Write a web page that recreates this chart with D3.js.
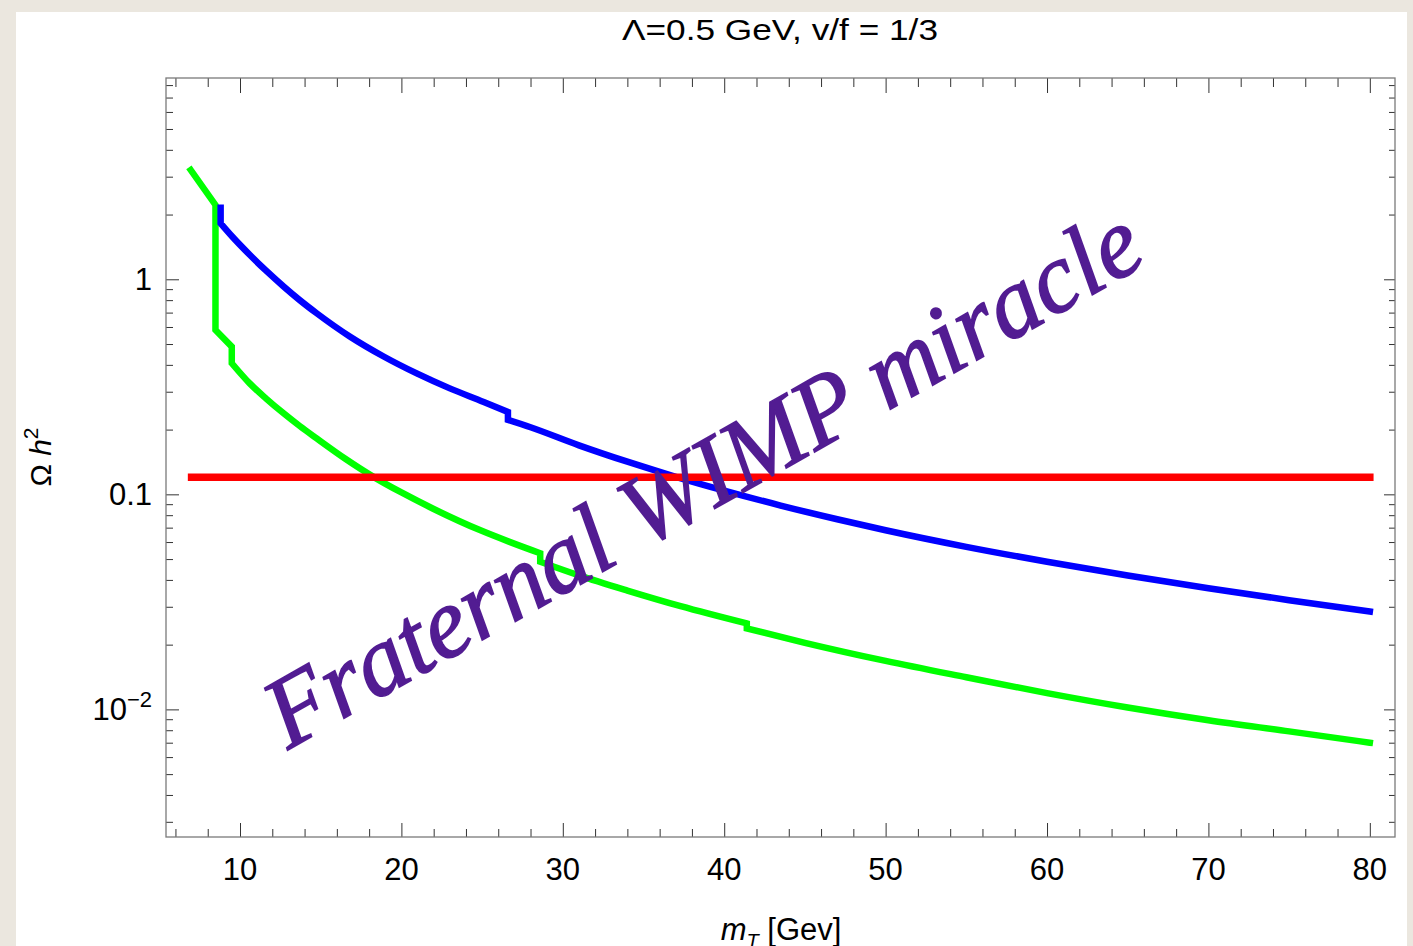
<!DOCTYPE html>
<html>
<head>
<meta charset="utf-8">
<script src="https://cdn.jsdelivr.net/npm/d3@7"></script>
<style>
    html, body { margin: 0; padding: 0; background: #ebe7df; }
    svg { display: block; }
    text { font-family: "Liberation Sans", Arial, Helvetica, sans-serif; fill: #000; }
</style>
</head>
<body>
<svg id="chart" width="1413" height="946"></svg>
<script>
// values
const titleText = 'Λ=0.5 GeV, v/f = 1/3'
const overlayText = 'Fraternal WIMP miracle'

const xMajorTicks = [10, 20, 30, 40, 50, 60, 70, 80]
const xMinorTicks = [6, 8, 12, 14, 16, 18, 22, 24, 26, 28, 32, 34, 36, 38, 42, 44, 46, 48,
    52, 54, 56, 58, 62, 64, 66, 68, 72, 74, 76, 78]
const yMajorTicks = [0.01, 0.1, 1]
const yMinorTicks = [0.003, 0.004, 0.005, 0.006, 0.007, 0.008, 0.009,
    0.02, 0.03, 0.04, 0.05, 0.06, 0.07, 0.08, 0.09,
    0.2, 0.3, 0.4, 0.5, 0.6, 0.7, 0.8, 0.9,
    2, 3, 4, 5, 6, 7, 8]

// relic density of the heavier state (blue), split where the curve jumps
const blueSeries = [
    [[8.8, 2.15]],
    [[8.8, 1.82], [9.5, 1.585], [10.6, 1.30], [11.6, 1.099], [12.7, 0.926], [13.7, 0.800],
        [14.75, 0.695], [16.8, 0.542], [18.9, 0.4375], [20.95, 0.365], [23.0, 0.311],
        [25.1, 0.269], [26.6, 0.2414]],
    [[26.6, 0.222], [28.0, 0.205], [31.0, 0.169], [34.0, 0.1418], [37.0, 0.1207],
        [40.0, 0.1041], [43.5, 0.0887], [47, 0.0766], [50, 0.0681], [55, 0.0570],
        [60, 0.0486], [65, 0.0419], [70, 0.0366], [75, 0.0322], [80, 0.0285]]
]
// relic density of the lighter state (green)
const greenSeries = [
    [[6.95, 3.22], [8.48, 2.216]],
    [[8.48, 0.581], [9.49, 0.486]],
    [[9.49, 0.407], [10.6, 0.328], [11.6, 0.2795], [12.7, 0.238], [13.7, 0.2078], [14.75, 0.182],
        [16.5, 0.1468], [18.4, 0.119], [20, 0.102], [22, 0.0855], [24.9, 0.068],
        [26.7, 0.0601], [28.6, 0.0532]],
    [[28.6, 0.0486], [31, 0.042], [34, 0.0357], [37.3, 0.0302], [41.4, 0.0251]],
    [[41.4, 0.0238], [45, 0.0204], [50, 0.0168], [55, 0.0141], [60, 0.0119], [65, 0.0102],
        [70, 0.0089], [75, 0.0079], [80, 0.0070]]
]
// observed value
const redSeries = [[[7, 0.12], [80, 0.12]]]

const svg = d3.select('#chart')

// white sheet on the paper background
svg.append('rect')
    .attr('x', 16).attr('y', 12)
    .attr('width', 1391).attr('height', 940)
    .attr('fill', '#ffffff')

const plot = { left: 166, right: 1395, top: 78, bottom: 837 }

const x = d3.scaleLinear()
    .domain([5.415, 81.56])
    .range([plot.left, plot.right])

const y = d3.scaleLog()
    .domain([0.00255, 8.63])
    .range([plot.bottom, plot.top])

// ticks (inward, Mathematica frame style)
function tickAxis(axis, transform) {
    const g = svg.append('g').attr('transform', transform).call(axis)
    g.select('.domain').remove()
    g.selectAll('text').remove()
    g.selectAll('line').attr('stroke', '#333').attr('stroke-width', 1)
    return g
}

tickAxis(d3.axisBottom(x).tickValues(xMajorTicks).tickSizeInner(-14).tickSizeOuter(0),
    `translate(0,${plot.bottom})`)
tickAxis(d3.axisBottom(x).tickValues(xMinorTicks).tickSizeInner(-8).tickSizeOuter(0),
    `translate(0,${plot.bottom})`)
tickAxis(d3.axisTop(x).tickValues(xMajorTicks).tickSizeInner(-15).tickSizeOuter(0),
    `translate(0,${plot.top})`)
tickAxis(d3.axisTop(x).tickValues(xMinorTicks).tickSizeInner(-9).tickSizeOuter(0),
    `translate(0,${plot.top})`)
tickAxis(d3.axisLeft(y).tickValues(yMajorTicks).tickSizeInner(-13).tickSizeOuter(0),
    `translate(${plot.left},0)`)
tickAxis(d3.axisLeft(y).tickValues(yMinorTicks).tickSizeInner(-7).tickSizeOuter(0),
    `translate(${plot.left},0)`)
tickAxis(d3.axisRight(y).tickValues(yMajorTicks).tickSizeInner(-11).tickSizeOuter(0),
    `translate(${plot.right},0)`)
tickAxis(d3.axisRight(y).tickValues(yMinorTicks).tickSizeInner(-6).tickSizeOuter(0),
    `translate(${plot.right},0)`)

// frame
svg.append('rect')
    .attr('x', plot.left).attr('y', plot.top)
    .attr('width', plot.right - plot.left).attr('height', plot.bottom - plot.top)
    .attr('fill', 'none')
    .attr('stroke', '#7a7a7a')
    .attr('stroke-width', 1.3)

// tick labels
svg.append('g').selectAll('text')
    .data(xMajorTicks)
    .join('text')
    .attr('x', d => x(d))
    .attr('y', 880)
    .attr('text-anchor', 'middle')
    .style('font-size', '31px')
    .text(d => d)

const yLabels = svg.append('g')
yMajorTicks.forEach(v => {
    const t = yLabels.append('text')
        .attr('x', 152)
        .attr('y', y(v) + 11)
        .attr('text-anchor', 'end')
        .style('font-size', '31px')
    if (v == 0.01) {
        t.append('tspan').text('10')
        t.append('tspan').attr('dy', -13).style('font-size', '22px').text('\u22122')
    }
    else {
        t.text(v)
    }
})

// curves: smooth inside each piece, pieces joined by straight jumps
const line = d3.line()
    .x(d => x(d[0]))
    .y(d => y(d[1]))
    .curve(d3.curveMonotoneX)

function piecewisePath(pieces) {
    return pieces.map((p, i) => {
        let d = p.length == 1 ? 'M' + x(p[0][0]) + ',' + y(p[0][1]) : line(p)
        return i == 0 ? d : 'L' + d.slice(1)
    }).join('')
}

const curves = [
    { data: greenSeries, color: '#00ff00', width: 6.5 },
    { data: blueSeries, color: '#0000ff', width: 6.5 },
    { data: redSeries, color: '#ff0000', width: 7.5 }
]
curves.forEach(c => {
    svg.append('path')
        .attr('d', piecewisePath(c.data))
        .attr('fill', 'none')
        .attr('stroke', c.color)
        .attr('stroke-width', c.width)
        .attr('stroke-linejoin', 'miter')
        .attr('stroke-linecap', 'square')
})

// title
svg.append('text')
    .attr('x', 622)
    .attr('y', 40)
    .attr('textLength', 316)
    .attr('lengthAdjust', 'spacingAndGlyphs')
    .style('font-size', '30px')
    .text(titleText)

// axis labels
const xLabel = svg.append('text')
    .attr('x', 781)
    .attr('y', 940)
    .attr('text-anchor', 'middle')
    .style('font-size', '31px')
xLabel.append('tspan').style('font-style', 'italic').text('m')
xLabel.append('tspan').attr('dy', 8).style('font-size', '20px').style('font-style', 'italic').text('T')
xLabel.append('tspan').attr('dy', -8).text(' [Gev]')

const yLabel = svg.append('text')
    .attr('transform', 'translate(51,457) rotate(-90)')
    .attr('text-anchor', 'middle')
    .style('font-size', '30px')
yLabel.append('tspan').text('Ω ')
yLabel.append('tspan').style('font-style', 'italic').text('h')
yLabel.append('tspan').attr('dy', -13).style('font-size', '21px').text('2')

// overlay
svg.append('text')
    .attr('transform', 'translate(288,750) rotate(-29.5)')
    .attr('textLength', 990)
    .attr('lengthAdjust', 'spacingAndGlyphs')
    .style('font-family', '"Liberation Serif", "Times New Roman", serif')
    .style('font-style', 'italic')
    .style('font-size', '100px')
    .style('fill', '#521c92')
    .style('stroke', '#521c92')
    .style('stroke-width', 1.6)
    .text(overlayText)
</script>
</body>
</html>
